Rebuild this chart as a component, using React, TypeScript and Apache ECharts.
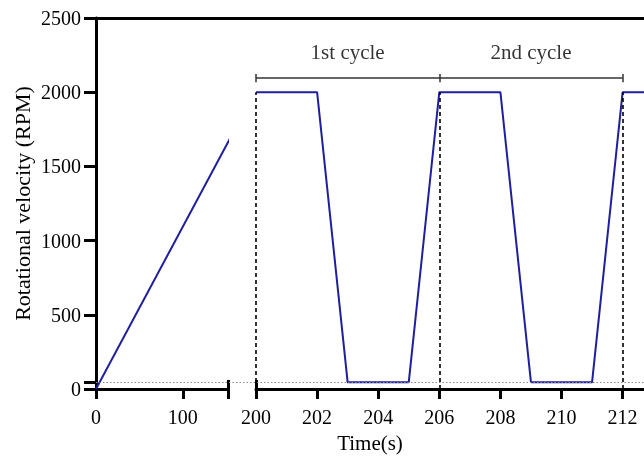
import React, { useEffect, useRef } from "react";
import * as echarts from "echarts";

// ---- data ----
const rampTime = [0, 154];
const rampRpm = [0, 1685];
const cycleTime = [200, 202, 203, 205, 206, 208, 209, 211, 212, 213];
const cycleRpm = [2000, 2000, 45, 45, 2000, 2000, 45, 45, 2000, 2000];
const cycleStarts = [200, 206, 212];
const cycleLabels = ["1st cycle", "2nd cycle"];
const cycleLabelX = [203, 209];
const lowRpm = 45;
const bracketRpm = 2095;
const labelRpm = 2272;
const yTickLabels = [0, 500, 1000, 1500, 2000, 2500];
const yTickMarks = [0, 45, 500, 1000, 1500, 2000, 2500];
const seg1Ticks = [0, 100];
const seg1End = 152;
const seg2Ticks = [200, 202, 204, 206, 208, 210, 212];
const seg2Start = 200;
const seg2End = 212.7;

const FONT = "'Liberation Serif', 'Times New Roman', serif";
const BLUE = "#1f1f9c";

export default function App() {
  const ref = useRef<HTMLDivElement>(null);
  useEffect(() => {
    document.body.style.margin = "0";
    const chart = echarts.init(ref.current!, null, { renderer: "svg" });
    const axisLine = { show: true, onZero: false, lineStyle: { color: "#000", width: 3 } };
    const tickStyle = { color: "#000", width: 3 };
    const labelStyle = {
      color: "#000", fontFamily: FONT, fontSize: 20,
      formatter: (v: number) => String(v),
    };
    const ramp = rampTime.map((t, i) => [t, rampRpm[i]]);
    const cycle = cycleTime.map((t, i) => [t, cycleRpm[i]]);
    const option: any = {
      animation: false,
      grid: [
        { left: 96, width: 132, top: 18, bottom: 68, containLabel: false, outerBoundsMode: "none" },
        { left: 256, right: 0, top: 18, bottom: 68, containLabel: false, outerBoundsMode: "none" },
        { left: 96, right: 0, top: 18, bottom: 68, containLabel: false, outerBoundsMode: "none" },
      ],
      xAxis: [
        {
          type: "value", gridIndex: 0, min: 0, max: seg1End, position: "bottom",
          axisLine,
          axisTick: { show: true, length: 10, lineStyle: tickStyle, customValues: [...seg1Ticks, seg1End] },
          axisLabel: { ...labelStyle, margin: 18, customValues: seg1Ticks },
          splitLine: { show: false },
        },
        {
          type: "value", gridIndex: 0, min: 0, max: seg1End, position: "bottom",
          axisLine: { show: false },
          axisTick: { show: true, inside: true, length: 9, lineStyle: tickStyle, customValues: [seg1End] },
          axisLabel: { show: false },
          splitLine: { show: false },
        },
        {
          type: "value", gridIndex: 1, min: seg2Start, max: seg2End, position: "bottom",
          axisLine,
          axisTick: { show: true, length: 10, lineStyle: tickStyle, customValues: seg2Ticks },
          axisLabel: { ...labelStyle, margin: 18, customValues: seg2Ticks },
          splitLine: { show: false },
        },
        {
          type: "value", gridIndex: 1, min: seg2Start, max: seg2End, position: "bottom",
          axisLine: { show: false },
          axisTick: { show: true, inside: true, length: 9, lineStyle: tickStyle, customValues: [seg2Start] },
          axisLabel: { show: false },
          splitLine: { show: false },
        },
        {
          type: "value", gridIndex: 2, min: 0, max: 1, position: "top",
          axisLine,
          axisTick: { show: false },
          axisLabel: { show: false },
          splitLine: { show: false },
        },
        {
          type: "value", gridIndex: 2, min: 0, max: 1, position: "bottom",
          axisLine: { show: false },
          axisTick: { show: false },
          axisLabel: { show: false },
          splitLine: { show: false },
          name: "Time(s)",
          nameLocation: "middle",
          nameGap: 43,
          nameTextStyle: { color: "#000", fontFamily: FONT, fontSize: 21 },
        },
      ],
      yAxis: [
        {
          type: "value", gridIndex: 0, min: 0, max: 2500,
          axisLine,
          axisTick: { show: true, length: 12, lineStyle: tickStyle, customValues: yTickMarks },
          axisLabel: { ...labelStyle, margin: 15, customValues: yTickLabels },
          splitLine: { show: false },
          name: "Rotational velocity (RPM)",
          nameLocation: "middle",
          nameGap: 63,
          nameTextStyle: { color: "#000", fontFamily: FONT, fontSize: 22 },
        },
        { type: "value", gridIndex: 1, min: 0, max: 2500, show: false },
        { type: "value", gridIndex: 2, min: 0, max: 2500, show: false },
      ],
      series: [
        {
          type: "line", xAxisIndex: 5, yAxisIndex: 2, data: [], silent: true, z: 1,
          markLine: {
            silent: true, symbol: "none", label: { show: false },
            lineStyle: { color: "#8a8a8a", width: 1, type: [1.5, 2] },
            data: [{ yAxis: lowRpm }],
          },
        },
        {
          type: "line", xAxisIndex: 0, yAxisIndex: 0, data: ramp, clip: false,
          symbol: "none", silent: true, z: 3,
          lineStyle: { color: BLUE, width: 2 },
        },
        {
          type: "line", xAxisIndex: 2, yAxisIndex: 1, data: cycle,
          symbol: "none", silent: true, z: 3,
          lineStyle: { color: BLUE, width: 2 },
          markLine: {
            silent: true, symbol: "none", label: { show: false },
            lineStyle: { color: "#000", width: 1.6, type: [4, 3] },
            data: cycleStarts.map((t) => [{ coord: [t, 0] }, { coord: [t, 2000] }]),
          },
        },
        {
          type: "line", xAxisIndex: 2, yAxisIndex: 1, data: [], silent: true,
          markLine: {
            silent: true, symbol: "none", label: { show: false },
            lineStyle: { color: "#333", width: 1.5, type: "solid" },
            data: [
              [{ coord: [cycleStarts[0], bracketRpm] }, { coord: [cycleStarts[cycleStarts.length - 1], bracketRpm] }],
              ...cycleStarts.map((t) => [{ coord: [t, bracketRpm - 28] }, { coord: [t, bracketRpm + 28] }]),
            ],
          },
        },
        {
          type: "scatter", xAxisIndex: 2, yAxisIndex: 1, silent: true,
          symbolSize: 1, itemStyle: { color: "transparent" },
          data: cycleLabels.map((l, i) => [cycleLabelX[i], labelRpm, l]),
          label: {
            show: true, position: "inside",
            formatter: (p: any) => p.value[2],
            color: "#000", fontFamily: FONT, fontSize: 21,
          },
        },
      ],
    };
    chart.setOption(option);
    return () => chart.dispose();
  }, []);
  return <div ref={ref} style={{ position: "fixed", left: 0, top: 0, width: 644, height: 457 }} />;
}
